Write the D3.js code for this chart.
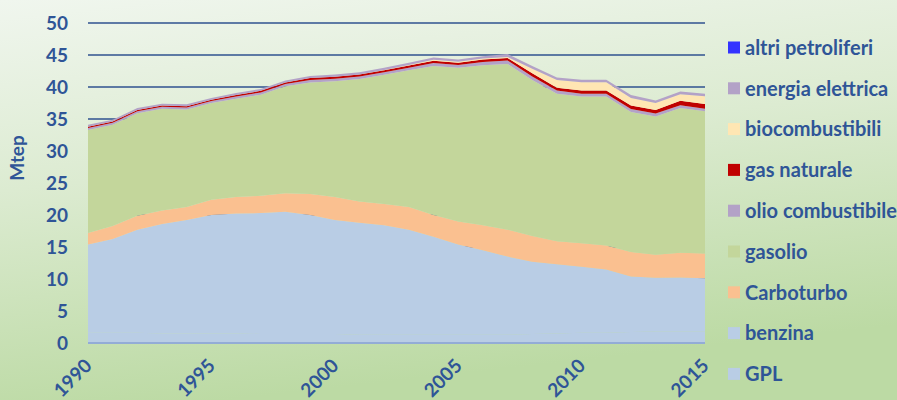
<!DOCTYPE html>
<html>
<head>
<meta charset="utf-8">
<script src="https://cdn.jsdelivr.net/npm/d3@7"></script>
<style>
  body { margin: 0; }
  svg { display: block; font-family: Lato, "Liberation Sans", sans-serif; font-weight: bold; }
</style>
</head>
<body>
<div class="chart"></div>
<script>
var w = 897;
var h = 400;
var paddingTop = 23;
var paddingBottom = 57;
var paddingLeft = 88;
var paddingRight = 192;
var textColor = "#2f5597";

// data (Mtep)
var years = [1990, 1991, 1992, 1993, 1994, 1995, 1996, 1997, 1998, 1999, 2000, 2001, 2002,
             2003, 2004, 2005, 2006, 2007, 2008, 2009, 2010, 2011, 2012, 2013, 2014, 2015];
var gpl = [1.6, 1.6, 1.6, 1.5, 1.5, 1.5, 1.5, 1.4, 1.4, 1.4, 1.4, 1.3, 1.3,
           1.3, 1.3, 1.3, 1.3, 1.3, 1.4, 1.5, 1.6, 1.6, 1.7, 1.8, 1.8, 1.8];
var benzina = [13.8, 14.65, 16.1, 17.1, 17.7, 18.5, 18.75, 18.9, 19.1, 18.6, 17.8, 17.5, 17.1,
               16.4, 15.3, 14.1, 13.2, 12.2, 11.3, 10.8, 10.3, 9.9, 8.7, 8.4, 8.45, 8.3];
var carboturbo = [1.8, 2.05, 2.2, 2.1, 2.05, 2.4, 2.55, 2.7, 2.9, 3.3, 3.6, 3.3, 3.3,
                  3.55, 3.4, 3.6, 3.9, 4.2, 4.0, 3.6, 3.7, 3.75, 3.8, 3.6, 3.85, 3.9];
var gasolio = [16.1, 15.8, 16.0, 15.9, 15.25, 15.1, 15.35, 15.8, 16.7, 17.4, 18.1, 19.15, 20.2,
               21.35, 23.3, 24.0, 25.0, 25.9, 24.4, 23.05, 22.9, 23.25, 21.9, 21.6, 22.6, 22.2];
var olioCombustibile = [0.3, 0.3, 0.3, 0.3, 0.3, 0.3, 0.35, 0.35, 0.35, 0.4, 0.4, 0.4, 0.4,
                        0.4, 0.45, 0.45, 0.5, 0.55, 0.55, 0.5, 0.45, 0.45, 0.45, 0.45, 0.45, 0.4];
var gasNaturale = [0.2, 0.2, 0.2, 0.2, 0.2, 0.2, 0.25, 0.25, 0.25, 0.3, 0.3, 0.3, 0.3,
                   0.35, 0.35, 0.35, 0.4, 0.4, 0.5, 0.45, 0.5, 0.5, 0.55, 0.55, 0.7, 0.75];
var biocombustibili = [0, 0, 0, 0, 0, 0, 0, 0, 0, 0, 0, 0, 0.05,
                       0.1, 0.15, 0.15, 0.15, 0.15, 0.7, 1.2, 1.3, 1.3, 1.2, 1.1, 1.0, 1.2];
var energiaElettrica = [0.3, 0.3, 0.3, 0.3, 0.3, 0.3, 0.3, 0.3, 0.3, 0.3, 0.35, 0.35, 0.35,
                        0.35, 0.35, 0.35, 0.35, 0.45, 0.45, 0.4, 0.4, 0.4, 0.45, 0.4, 0.45, 0.4];
var altriPetroliferi = [0, 0, 0, 0, 0, 0, 0, 0, 0, 0, 0, 0, 0,
                        0, 0, 0, 0, 0, 0, 0, 0, 0, 0, 0, 0, 0];

var yTicks = [0, 5, 10, 15, 20, 25, 30, 35, 40, 45, 50];
var xTicks = [1990, 1995, 2000, 2005, 2010, 2015];

// stack order, bottom to top
var series = [
  {key: "GPL", values: gpl, color: "#b9cde5"},
  {key: "benzina", values: benzina, color: "#b9cde5"},
  {key: "Carboturbo", values: carboturbo, color: "#fac090"},
  {key: "gasolio", values: gasolio, color: "#c3d69b"},
  {key: "olio combustibile", values: olioCombustibile, color: "#b3a2c7"},
  {key: "gas naturale", values: gasNaturale, color: "#c00000"},
  {key: "biocombustibili", values: biocombustibili, color: "#ffe6b3"},
  {key: "energia elettrica", values: energiaElettrica, color: "#b3a2c7"},
  {key: "altri petroliferi", values: altriPetroliferi, color: "#3333ff"}
];

var table = years.map(function(y, i) {
  var row = {year: y};
  series.forEach(function(s) { row[s.key] = s.values[i]; });
  return row;
});

var stacked = d3.stack()
                .keys(series.map(function(s) { return s.key; }))(table);

var xScale = d3.scaleLinear()
               .domain([1990, 2015])
               .range([paddingLeft, w - paddingRight]);

var yScale = d3.scaleLinear()
               .domain([0, 50])
               .range([h - paddingBottom, paddingTop]);

var svg = d3.select(".chart").append("svg")
            .attr("width", w)
            .attr("height", h);

// background
var grad = svg.append("defs").append("linearGradient")
              .attr("id", "bg")
              .attr("x1", 0).attr("y1", 0)
              .attr("x2", 0.25).attr("y2", 1);
grad.append("stop").attr("offset", "0%").attr("stop-color", "#f0f6ee");
grad.append("stop").attr("offset", "45%").attr("stop-color", "#dcebd1");
grad.append("stop").attr("offset", "100%").attr("stop-color", "#bcdaa4");

svg.append("rect")
   .attr("width", w)
   .attr("height", h)
   .attr("fill", "url(#bg)");

// gridlines
svg.selectAll(".gridline")
   .data(yTicks.filter(function(d) { return d > 0; }))
   .enter()
   .append("line")
   .attr("class", "gridline")
   .attr("x1", paddingLeft)
   .attr("x2", w - paddingRight)
   .attr("y1", function(d) { return yScale(d); })
   .attr("y2", function(d) { return yScale(d); })
   .style("stroke", "#2f528f")
   .style("stroke-width", 1.5);

// areas
var area = d3.area()
             .x(function(d) { return xScale(d.data.year); })
             .y0(function(d) { return yScale(d[0]); })
             .y1(function(d) { return yScale(d[1]); });

svg.selectAll(".layer")
   .data(stacked)
   .enter()
   .append("path")
   .attr("class", "layer")
   .attr("d", area)
   .style("fill", function(d, i) { return series[i].color; });

// baseline
svg.append("line")
   .attr("x1", paddingLeft)
   .attr("x2", w - paddingRight)
   .attr("y1", yScale(0))
   .attr("y2", yScale(0))
   .style("stroke", "#93acd6")
   .style("stroke-width", 2);

// y axis labels
svg.selectAll(".yLabel")
   .data(yTicks)
   .enter()
   .append("text")
   .attr("class", "yLabel")
   .attr("x", 68)
   .attr("y", function(d) { return yScale(d); })
   .attr("dy", "0.36em")
   .attr("text-anchor", "end")
   .style("font-size", "19px")
   .style("fill", textColor)
   .text(function(d) { return d; });

// x axis labels
svg.selectAll(".xLabel")
   .data(xTicks)
   .enter()
   .append("text")
   .attr("class", "xLabel")
   .attr("text-anchor", "end")
   .attr("transform", function(d) {
     return "translate(" + (xScale(d) + 5) + "," + 367 + ") rotate(-45)";
   })
   .style("font-size", "19px")
   .style("fill", textColor)
   .text(function(d) { return d; });

svg.append("text")
   .attr("text-anchor", "middle")
   .attr("transform", "translate(24,158) rotate(-90)")
   .style("font-size", "19px")
   .style("fill", textColor)
   .text("Mtep");

// legend, top entry is the last stacked series
var legend = svg.selectAll(".legendItem")
                .data(series.slice().reverse())
                .enter()
                .append("g")
                .attr("class", "legendItem")
                .attr("transform", function(d, i) {
                  return "translate(728," + (47.5 + i * 40.8) + ")";
                });

legend.append("rect")
      .attr("x", 0)
      .attr("y", -6)
      .attr("width", 12)
      .attr("height", 12)
      .style("fill", function(d) { return d.color; });

legend.append("text")
      .attr("x", 17)
      .attr("dy", "0.36em")
      .style("font-size", "20px")
      .style("fill", textColor)
      .text(function(d) { return d.key; });
</script>
</body>
</html>
